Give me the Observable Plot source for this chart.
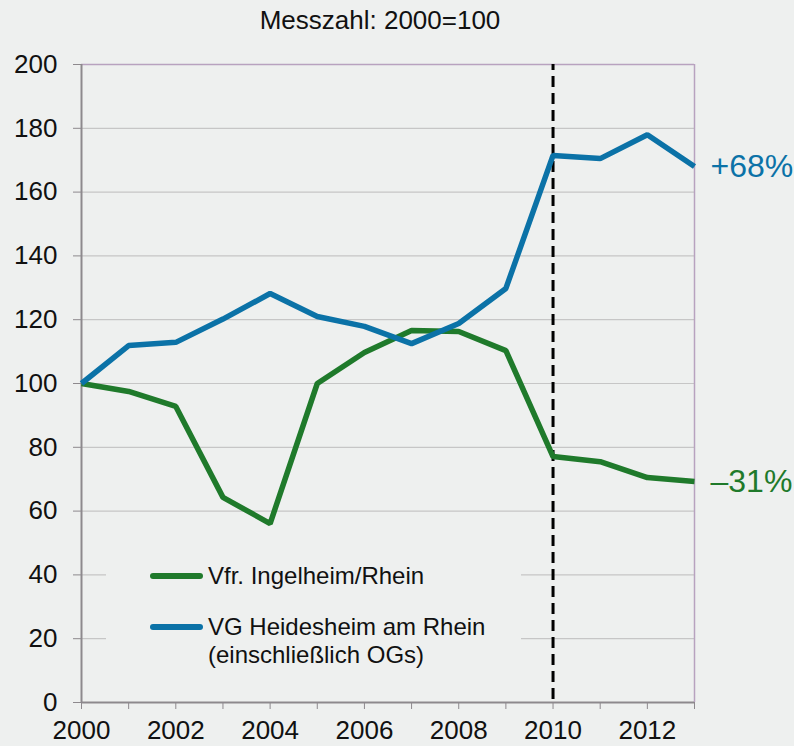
<!DOCTYPE html>
<html><head><meta charset="utf-8">
<script src="https://cdn.jsdelivr.net/npm/d3@7"></script>
<script src="https://cdn.jsdelivr.net/npm/@observablehq/plot@0.6"></script>
<style>
body{margin:0;background:#eef0ef;font-family:"Liberation Sans",Arial,sans-serif;}
#wrap{position:relative;width:794px;height:746px;background:#eef0ef;overflow:hidden;}
#title{position:absolute;left:0;top:5px;width:760px;text-align:center;font-size:26px;line-height:30px;color:#111;}
#chart{position:absolute;left:0;top:44px;}
#legend{position:absolute;left:106px;top:555px;width:415px;height:115px;background:#eef0ef;font-size:24px;color:#111;}
.item{position:absolute;left:44px;display:flex;align-items:flex-start;}
.sw{width:53px;height:6px;border-radius:3px;margin-right:5px;margin-top:11px;}
</style></head>
<body>
<div id="wrap">
<div id="title">Messzahl: 2000=100</div>
<div id="chart"></div>
<div id="legend"></div>
</div>
<script>
const years = [2000,2001,2002,2003,2004,2005,2006,2007,2008,2009,2010,2011,2012,2013];
const labelYears = [2000,2002,2004,2006,2008,2010,2012];
const ingelheim = [100,97.5,92.8,64.3,56.1,100,109.7,116.6,116.3,110.3,77.1,75.5,70.5,69.3];
const heidesheim = [100,111.9,112.9,120.2,128.2,121.0,117.9,112.5,118.8,129.8,171.5,170.5,178.0,168.0];
const seriesNames = ["Vfr. Ingelheim/Rhein","VG Heidesheim am Rhein\n(einschließlich OGs)"];
const seriesColors = ["#1f7a2b","#0b72a7"];
const endLabels = ["–31%","+68%"];
const yTicks = [0,20,40,60,80,100,120,140,160,180,200];
const gridTicks = [20,40,60,80,100,120,140,160,180];
const cutYear = 2010;

const rows = [];
years.forEach((y,i)=>{
  rows.push({year:y, value:ingelheim[i], s:0});
  rows.push({year:y, value:heidesheim[i], s:1});
});
const last = [
  {year:years[years.length-1], value:ingelheim[ingelheim.length-1], s:0},
  {year:years[years.length-1], value:heidesheim[heidesheim.length-1], s:1}
];

const chart = Plot.plot({
  width:794, height:702,
  marginTop:20, marginLeft:81, marginRight:100, marginBottom:44,
  style:{background:"transparent", fontFamily:"Liberation Sans, Arial, sans-serif", color:"#111"},
  x:{domain:[2000,2013]},
  y:{domain:[0,200]},
  marks:[
    Plot.ruleY(gridTicks,{stroke:"#c6c6c6", strokeWidth:1.2}),
    Plot.ruleY([200],{stroke:"#b8a2bf", strokeWidth:1.5}),
    Plot.ruleX([2013],{stroke:"#b8a2bf", strokeWidth:1.5}),
    Plot.axisY({ticks:yTicks, tickSize:8, tickPadding:16, stroke:"#8d898d", fontSize:26, label:null, tickFormat:d=>d}),
    Plot.axisX({ticks:years, tickSize:7, stroke:"#8d898d", label:null, text:null}),
    Plot.axisX({ticks:labelYears, tickSize:0, tickPadding:0, dy:18, fontSize:26, label:null, tickFormat:d=>String(d)}),
    Plot.ruleX([2000],{stroke:"#8d898d", strokeWidth:2}),
    Plot.ruleY([0],{stroke:"#8d898d", strokeWidth:2}),
    Plot.ruleX([cutYear],{y1:0,y2:200,stroke:"#000",strokeWidth:3,strokeDasharray:"11,6", insetTop:-3}),
    Plot.line(rows,{x:"year", y:"value", z:"s", stroke:d=>seriesColors[d.s], strokeWidth:5.5, strokeLinejoin:"miter", strokeLinecap:"butt"}),
    Plot.text(last,{x:"year", y:"value", text:d=>endLabels[d.s], fill:d=>seriesColors[d.s], textAnchor:"start", dx:16, fontSize:32})
  ]
});
document.getElementById("chart").appendChild(chart);

const lg = document.getElementById("legend");
seriesNames.forEach((n,i)=>{
  const it = document.createElement("div");
  it.className="item";
  it.style.top = (i===0? 7 : 58) + "px";
  const sw = document.createElement("div");
  sw.className="sw"; sw.style.background = seriesColors[i];
  const t = document.createElement("div");
  t.style.whiteSpace="pre"; t.style.lineHeight="28px"; t.textContent = n;
  it.appendChild(sw); it.appendChild(t);
  lg.appendChild(it);
});
</script>
</body></html>
